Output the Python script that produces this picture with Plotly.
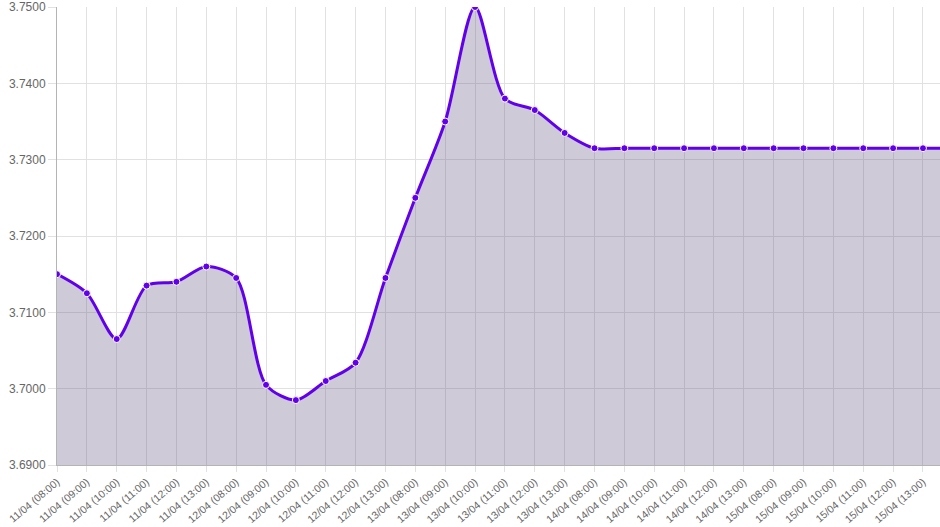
import plotly.graph_objects as go

days = ["11/04", "12/04", "13/04", "14/04", "15/04", "16/04"]
hours = ["08:00", "09:00", "10:00", "11:00", "12:00", "13:00"]
categories = [f"{d} ({h})" for d in days for h in hours][:31]

values = [
    3.7150, 3.7125, 3.7065, 3.7135, 3.7140, 3.7160,
    3.7145, 3.7005, 3.6985, 3.7010, 3.7034, 3.7145,
    3.7250, 3.7350, 3.7500, 3.7380, 3.7365, 3.7335,
    3.7315, 3.7315, 3.7315, 3.7315, 3.7315, 3.7315,
    3.7315, 3.7315, 3.7315, 3.7315, 3.7315, 3.7315,
    3.7315,
]

y_ticks = [3.69, 3.70, 3.71, 3.72, 3.73, 3.74, 3.75]

fig = go.Figure()
fig.add_trace(go.Scatter(
    x=list(range(len(categories))),
    y=values,
    mode="lines+markers",
    line=dict(color="#6200EA", width=3, shape="spline", smoothing=0.8),
    marker=dict(size=7, color="#6200EA", line=dict(color="#ffffff", width=1)),
    fill="tozeroy",
    fillcolor="rgba(92,78,125,0.30)",
    hoverinfo="skip",
))

font_family = "Liberation Sans, Arial, sans-serif"
fig.update_layout(
    width=940, height=527,
    margin=dict(l=57, r=0, t=7, b=62),
    paper_bgcolor="white", plot_bgcolor="white",
    showlegend=False,
    font=dict(family=font_family, size=12, color="#666666"),
)
fig.update_xaxes(
    range=[0, 29.57],
    automargin=False,
    tickmode="array",
    tickvals=list(range(len(categories))),
    ticktext=categories,
    tickangle=-40,
    tickfont=dict(size=10.5, color="#666666"),
    showgrid=True, gridcolor="#e1e1e1", gridwidth=1,
    ticks="outside", ticklen=6, tickcolor="#e1e1e1",
    showline=True, linecolor="#b4b4b4", linewidth=1,
    zeroline=False,
)
fig.update_yaxes(
    range=[3.69, 3.75],
    automargin=False,
    tickmode="array",
    tickvals=y_ticks,
    ticktext=[f"{v:.4f}" for v in y_ticks],
    tickfont=dict(size=12, color="#666666"),
    showgrid=True, gridcolor="#e1e1e1", gridwidth=1,
    ticks="outside", ticklen=8, tickcolor="#e1e1e1",
    showline=True, linecolor="#b4b4b4", linewidth=1,
    zeroline=False,
)

fig.write_html("out.html")
